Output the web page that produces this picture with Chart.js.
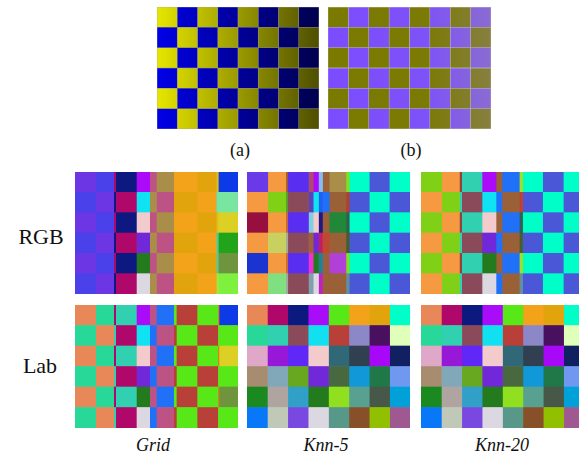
<!DOCTYPE html>
<html>
<head>
<meta charset="utf-8">
<script src="https://cdn.jsdelivr.net/npm/chart.js@4.4.0/dist/chart.umd.min.js"></script>
<style>
  body { margin: 0; background: #fff; }
  #page { position: relative; width: 579px; height: 452px; overflow: hidden; }
  canvas { position: absolute; }
  .lbl { position: absolute; font-family: 'Liberation Serif', 'Times New Roman', serif; line-height: 1; color: #111; white-space: nowrap; transform: translateX(-50%); }
  .it { font-style: italic; }
</style>
</head>
<body>
<div id="page">
  <canvas id="pA" width="162" height="122" style="left:157px;top:7px"></canvas>
  <canvas id="pB" width="163" height="122" style="left:328px;top:7px"></canvas>
  <canvas id="rgbGrid" width="163" height="122" style="left:75px;top:172px"></canvas>
  <canvas id="rgbKnn5" width="163" height="122" style="left:247px;top:172px"></canvas>
  <canvas id="rgbKnn20" width="163" height="122" style="left:421px;top:172px"></canvas>
  <canvas id="labGrid" width="163" height="123" style="left:75px;top:305px"></canvas>
  <canvas id="labKnn5" width="163" height="123" style="left:247px;top:305px"></canvas>
  <canvas id="labKnn20" width="163" height="123" style="left:421px;top:305px"></canvas>

  <div class="lbl" style="left:240px;top:141px;font-size:18px">(a)</div>
  <div class="lbl" style="left:411px;top:141px;font-size:18px">(b)</div>
  <div class="lbl" style="left:41px;top:226px;font-size:22px">RGB</div>
  <div class="lbl" style="left:40px;top:355px;font-size:22px">Lab</div>
  <div class="lbl it" style="left:153px;top:436px;font-size:18px">Grid</div>
  <div class="lbl it" style="left:326px;top:436px;font-size:18px">Knn-5</div>
  <div class="lbl it" style="left:502px;top:436px;font-size:18px">Knn-20</div>
</div>
<script>
// rows of every panel (top to bottom)
const rows = ['r1', 'r2', 'r3', 'r4', 'r5', 'r6'];

// top panels: plain 8x6 checkerboards
const topWidths = [20.25, 20.25, 20.25, 20.25, 20.25, 20.25, 20.25, 20.25];

// colours used in the bottom panels
const VIO = '#6c36e4', BVIO = '#4b41eb', NAVY = '#0d1980', MAG = '#b0086a';
const PURP = '#ab0bf8', CYAN = '#0fe2f2', PINK = '#f3cbcd', VIOL = '#7028d8', GRN = '#237b1e', LGRY = '#dcd8e2';
const MAUVE = '#bd5385', KHAKI = '#a88e48', ORNG = '#f2a31a', GOLD = '#e2a40c';
const ORG = '#f59a40', LIME = '#80d018', AQUA = '#00ffc8', BLU = '#4a58d8';
const TEAL = '#30d0b0', MAUV2 = '#8a4a5a', BRN = '#9a6038', BLUE2 = '#2070f8';
const SAL = '#e88858', TGRN = '#28d898', LIME2 = '#58e818', RED = '#b84038';
const alt = (a, b) => [a, b, a, b, a, b];

// RGB / Grid
const rgbGridWidths = [20.7, 18, 2, 20.7, 13.3, 6.7, 17.3, 23.3, 19.3, 2, 19.7];
const rgbGridColors = [
  alt(VIO, BVIO), alt(BVIO, VIO), alt(MAG, NAVY), alt(NAVY, MAG),
  [PURP, CYAN, PINK, VIOL, GRN, LGRY],
  alt(MAUVE, KHAKI), alt(KHAKI, MAUVE), alt(ORNG, GOLD), alt(GOLD, ORNG),
  ['#d8c020', '#60e8c0', '#e0c020', '#40d0a0', '#50c8a0', '#a0e840'],
  ['#0c3ae6', '#78e6a0', '#dcd024', '#22a41a', '#6e943e', '#7ef03e']
];

// RGB / Knn-5
const rgbKnn5Widths = [20.7, 18, 2, 20.7, 4.7, 5.3, 4, 6.7, 16.7, 3.3, 20, 20, 20.7];
const rgbKnn5Colors = [
  ['#6a3ae8', ORG, '#960f3e', ORG, '#1b34d0', ORG],
  [ORG, LIME, ORG, '#c8d060', ORG, '#80e080'],
  ['#a05c30', '#5a9a30', '#c06838', '#a8a898', '#c86c30', '#a0a8a0'],
  alt('#5a2ef0', MAUV2),
  ['#b04a6a', '#5a40c0', '#80d0e0', '#a06040', '#f030d0', '#80a0b0'],
  [PURP, CYAN, PINK, VIOL, GRN, LGRY],
  ['#80c0f0', '#2060f0', '#201880', '#c02060', '#2080a0', '#c020c0'],
  [BRN, BLUE2, BRN, '#c04830', BRN, BRN],
  [KHAKI, BRN, '#208838', BRN, '#b040d8', BRN],
  ['#80e020', '#b04030', '#306050', '#406030', '#80e020', '#6090a0'],
  alt(AQUA, BLU), alt(BLU, AQUA), alt(AQUA, BLU)
];

// RGB / Knn-20
const rgbKnn20Widths = [20.7, 17.7, 2.3, 20.3, 14, 6, 17.3, 3.3, 20, 20.7, 20.7];
const rgbKnn20Colors = [
  alt(LIME, ORG), alt(ORG, LIME), alt('#904040', TEAL), alt(TEAL, MAUV2),
  [PURP, CYAN, PINK, VIOL, GRN, LGRY],
  alt(BRN, BLUE2), alt(BLUE2, BRN),
  ['#a0e020', '#c04030', '#306050', '#406030', '#a0e020', '#6090a0'],
  alt(AQUA, BLU), alt(BLU, AQUA), alt(AQUA, BLU)
];

// Lab / Grid
const labGridWidths = [20.7, 18, 2, 20.7, 13.3, 6.7, 17.3, 2.7, 20.7, 20.7, 1.3, 19];
const labGridColors = [
  alt(SAL, TGRN), alt(TGRN, SAL), alt(MAG, TEAL), alt(TEAL, MAG),
  [PURP, CYAN, PINK, VIOL, GRN, LGRY],
  alt(MAUVE, BLUE2), alt(BLUE2, MAUVE), alt(LIME2, RED), alt(RED, LIME2), alt(LIME2, RED),
  alt('#d88020', LIME2),
  ['#0c3ae6', LIME2, '#dcd024', LIME2, '#6e943e', LIME2]
];

// Lab / Knn (same for k=5 and k=20), listed row by row
const labKnnWidths = [20.4, 20.4, 20.4, 20.4, 20.4, 20.4, 20.4, 20.4];
const labKnnRows = [
  ['#e88858', '#b0086a', '#0c1a80', '#a80cf8', '#58e818', '#f2a319', '#e2a40c', '#00ffc8'],
  ['#28d898', '#30d0b0', '#8a4a5a', '#10e0f0', '#b84038', '#8c88c8', '#4a1060', '#e0ffb8'],
  ['#e0a8c8', '#9818d8', '#6028f8', '#f3cbcd', '#306878', '#304050', '#a808f8', '#102060'],
  ['#a88c70', '#80a8b8', '#68a820', '#7028d8', '#486840', '#1098d8', '#207848', '#7098f0'],
  ['#1a8a20', '#b0a4a0', '#30a0c8', '#237b1e', '#90e020', '#58a090', '#485848', '#00a0d8'],
  ['#0878f8', '#c0c8b8', '#7848e0', '#dcd8e2', '#589888', '#885028', '#90c000', '#a05890']
];
const labKnnColors = labKnnWidths.map((w, c) => labKnnRows.map(r => r[c]));

function gradient(chart, stops) {
  const area = chart.chartArea;
  if (!area) return stops[0][1];
  const g = chart.ctx.createLinearGradient(area.left, 0, area.right, 0);
  stops.forEach(s => g.addColorStop(s[0], s[1]));
  return g;
}

function makePanel(id, widths, colorFor, border) {
  const total = widths.reduce((a, b) => a + b, 0);
  new Chart(document.getElementById(id), {
    type: 'bar',
    data: {
      labels: rows,
      datasets: widths.map((w, c) => ({
        data: rows.map(() => w),
        backgroundColor: ctx => colorFor(ctx, c),
        borderWidth: border ? border.width : 0,
        borderColor: border ? border.color : 'transparent',
        borderSkipped: false,
        barPercentage: 1,
        categoryPercentage: 1
      }))
    },
    options: {
      indexAxis: 'y',
      responsive: false,
      animation: false,
      events: [],
      layout: { padding: 0 },
      plugins: { legend: { display: false }, tooltip: { enabled: false } },
      scales: {
        x: { stacked: true, min: 0, max: total, display: false },
        y: { stacked: true, display: false }
      }
    }
  });
}

// (a) yellow / blue checkerboard fading to the right
makePanel('pA', topWidths, (ctx, c) => (ctx.dataIndex + c) % 2 === 0
  ? gradient(ctx.chart, [[0, '#e6e600'], [1, '#4e4e00']])
  : gradient(ctx.chart, [[0, '#0000e8'], [1, '#00004c']]),
  { width: 0.6, color: 'rgba(90,90,90,0.55)' });

// (b) olive / violet checkerboard
makePanel('pB', topWidths, (ctx, c) => (ctx.dataIndex + c) % 2 === 0
  ? gradient(ctx.chart, [[0, '#7a7a00'], [0.6, '#7b7a04'], [1, '#877f40']])
  : gradient(ctx.chart, [[0, '#7b4cff'], [0.6, '#7e52f8'], [1, '#8a6cd0']]),
  { width: 0.5, color: 'rgba(150,150,150,0.35)' });

const fromTable = table => (ctx, c) => table[c][ctx.dataIndex];
makePanel('rgbGrid', rgbGridWidths, fromTable(rgbGridColors));
makePanel('rgbKnn5', rgbKnn5Widths, fromTable(rgbKnn5Colors));
makePanel('rgbKnn20', rgbKnn20Widths, fromTable(rgbKnn20Colors));
makePanel('labGrid', labGridWidths, fromTable(labGridColors));
makePanel('labKnn5', labKnnWidths, fromTable(labKnnColors));
makePanel('labKnn20', labKnnWidths, fromTable(labKnnColors));
</script>
</body>
</html>
